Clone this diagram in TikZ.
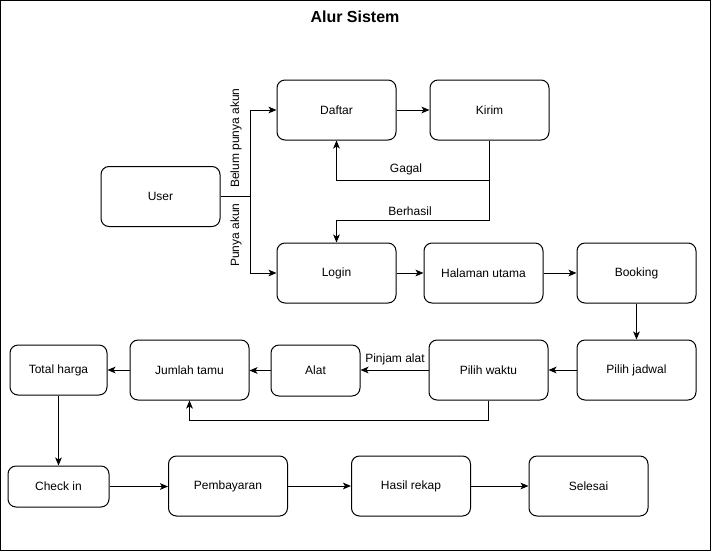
\documentclass[tikz,border=0pt]{standalone}
\usepackage{fontspec}
\setmainfont{Liberation Sans}
\usetikzlibrary{arrows.meta}
\begin{document}
\begin{tikzpicture}[x=0.75pt,y=-0.75pt,line width=0.75pt,
  >={Stealth[length=6pt,width=5pt,inset=1.5pt]},
  box/.style={draw, rounded corners=6pt, minimum width=89.25pt, minimum height=45pt,
    inner sep=0pt, font=\fontsize{9}{11}\selectfont},
  lbl/.style={inner sep=1pt, font=\fontsize{9}{11}\selectfont}]
  \useasboundingbox (0,0) rectangle (711,551);
  % frame and title
  \draw (0.5,0.5) rectangle (710.5,550.5);
  \node[font=\bfseries\fontsize{12}{14}\selectfont] (title) at (355,17) {Alur Sistem};
  % boxes
  \node[box] (user) at (160.5,196.5) {User};
  \node[box] (daftar) at (336.5,110) {Daftar};
  \node[box] (kirim) at (489.5,110) {Kirim};
  \node[box] (login) at (336.5,273) {Login};
  \node[box] (halaman) at (483.5,273) {Halaman utama};
  \node[box] (booking) at (636.5,273) {Booking};
  \node[box] (jadwal) at (636.5,370) {Pilih jadwal};
  \node[box] (waktu) at (488.5,370) {Pilih waktu};
  \node[box, minimum width=66.75pt, minimum height=38.25pt] (alat) at (315.5,370.5) {Alat};
  \node[box] (tamu) at (189.5,370) {Jumlah tamu};
  \node[box, minimum width=72.75pt, minimum height=37.5pt] (total) at (58.5,370) {Total harga};
  \node[box, minimum width=75.75pt, minimum height=30.75pt] (checkin) at (58.5,486.5) {Check in};
  \node[box] (bayar) at (228,486) {Pembayaran};
  \node[box] (rekap) at (411,486) {Hasil rekap};
  \node[box] (selesai) at (588.5,486) {Selesai};
  % user branches
  \coordinate (split) at (250,196.5);
  \draw (user.east) -- (split);
  \draw[->] (split) |- (daftar.west);
  \draw[->] (split) |- (login.west);
  \node[lbl, rotate=90] (belum) at (236,138) {Belum punya akun};
  \node[lbl, rotate=90] (punya) at (236,235) {Punya akun};
  % register loop
  \coordinate (gagal) at (489.5,180.5);
  \coordinate (berhasil) at (489.5,220.5);
  \draw[->] (daftar.east) -- (kirim.west);
  \draw[->] (kirim.south) -- (gagal) -| (daftar.south);
  \draw[->] (gagal) -- (berhasil) -| (login.north);
  \node[lbl] (lgagal) at (406,169) {Gagal};
  \node[lbl] (lberhasil) at (410,211) {Berhasil};
  % booking row
  \draw[->] (login.east) -- (halaman.west);
  \draw[->] (halaman.east) -- (booking.west);
  \draw[->] (booking.south) -- (jadwal.north);
  \draw[->] (jadwal.west) -- (waktu.west -| waktu.east);
  \draw[->] (waktu.west) -- (alat.east |- waktu.west);
  \node[lbl] (lpinjam) at (395,359) {Pinjam alat};
  \draw[->] (alat.west) -- (tamu.east |- alat.west);
  \draw[->] (tamu.west) -- (total.east |- tamu.west);
  \coordinate (back) at (488.5,420.5);
  \draw[->] (waktu.south) -- (back) -| (tamu.south);
  % last row
  \draw[->] (total.south) -- (checkin.north);
  \draw[->] (checkin.east) -- (bayar.west |- checkin.east);
  \draw[->] (bayar.east) -- (rekap.west);
  \draw[->] (rekap.east) -- (selesai.west);
\end{tikzpicture}
\end{document}
